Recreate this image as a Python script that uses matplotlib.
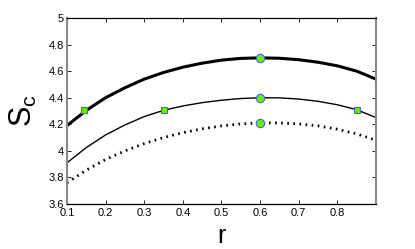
import matplotlib
matplotlib.use("Agg")
import matplotlib.pyplot as plt

plt.rcParams['font.family'] = ['Liberation Sans', 'DejaVu Sans']

r = [0.1, 0.15, 0.2, 0.25, 0.3, 0.35, 0.4, 0.45, 0.5, 0.55, 0.6, 0.65, 0.7, 0.75, 0.8, 0.85, 0.9]
sc_thick = [4.19, 4.305, 4.40, 4.475, 4.54, 4.59, 4.63, 4.66, 4.683, 4.696, 4.70, 4.697, 4.686, 4.667, 4.64, 4.60, 4.54]
sc_thin = [3.91, 4.025, 4.12, 4.195, 4.258, 4.305, 4.338, 4.363, 4.381, 4.394, 4.40, 4.399, 4.39, 4.373, 4.347, 4.31, 4.25]
sc_dot = [3.76, 3.855, 3.935, 4.00, 4.055, 4.10, 4.137, 4.166, 4.188, 4.203, 4.21, 4.21, 4.203, 4.188, 4.163, 4.128, 4.08]

sq_r = [0.145, 0.35, 0.85]
sq_sc = [4.31, 4.31, 4.31]
circ_r = [0.6, 0.6, 0.6]
circ_sc = [4.70, 4.40, 4.21]

fig = plt.figure(figsize=(4.15, 2.49), dpi=100)
ax = fig.add_axes([0.1614, 0.1807, 0.7446, 0.747])

ax.plot(r, sc_thick, color='black', lw=2.2)
ax.plot(r, sc_thin, color='black', lw=1.0)
ax.plot(r, sc_dot, color='black', lw=2.0, linestyle=(0, (0.6, 1.6)))

ax.plot(sq_r, sq_sc, 's', ms=5, mfc='#66ee00', mec='#4466dd', mew=0.8, ls='none')
ax.plot(circ_r, circ_sc, 'o', ms=6, mfc='#66ee00', mec='#4466dd', mew=0.8, ls='none')

ax.set_xlim(0.1, 0.9)
ax.set_ylim(3.6, 5.0)
ax.set_xticks([0.1, 0.2, 0.3, 0.4, 0.5, 0.6, 0.7, 0.8])
ax.set_xticklabels(['0.1', '0.2', '0.3', '0.4', '0.5', '0.6', '0.7', '0.8'])
ax.set_yticks([3.6, 3.8, 4.0, 4.2, 4.4, 4.6, 4.8, 5.0])
ax.set_yticklabels(['3.6', '3.8', '4', '4.2', '4.4', '4.6', '4.8', '5'])
ax.tick_params(direction='in', length=3, width=0.6, labelsize=8, top=True, right=True)
ax.tick_params(axis='x', pad=3)
ax.tick_params(axis='y', pad=2)

for side in ['left', 'right']:
    ax.spines[side].set_color('#888888')
    ax.spines[side].set_linewidth(1.5)
for side in ['top', 'bottom']:
    ax.spines[side].set_linewidth(0.9)

ax.set_xlabel('r', fontsize=18, labelpad=4)
ax.set_ylabel(r'$\mathregular{S_c}$', fontsize=22, labelpad=7)

fig.savefig('out.png', dpi=100)
